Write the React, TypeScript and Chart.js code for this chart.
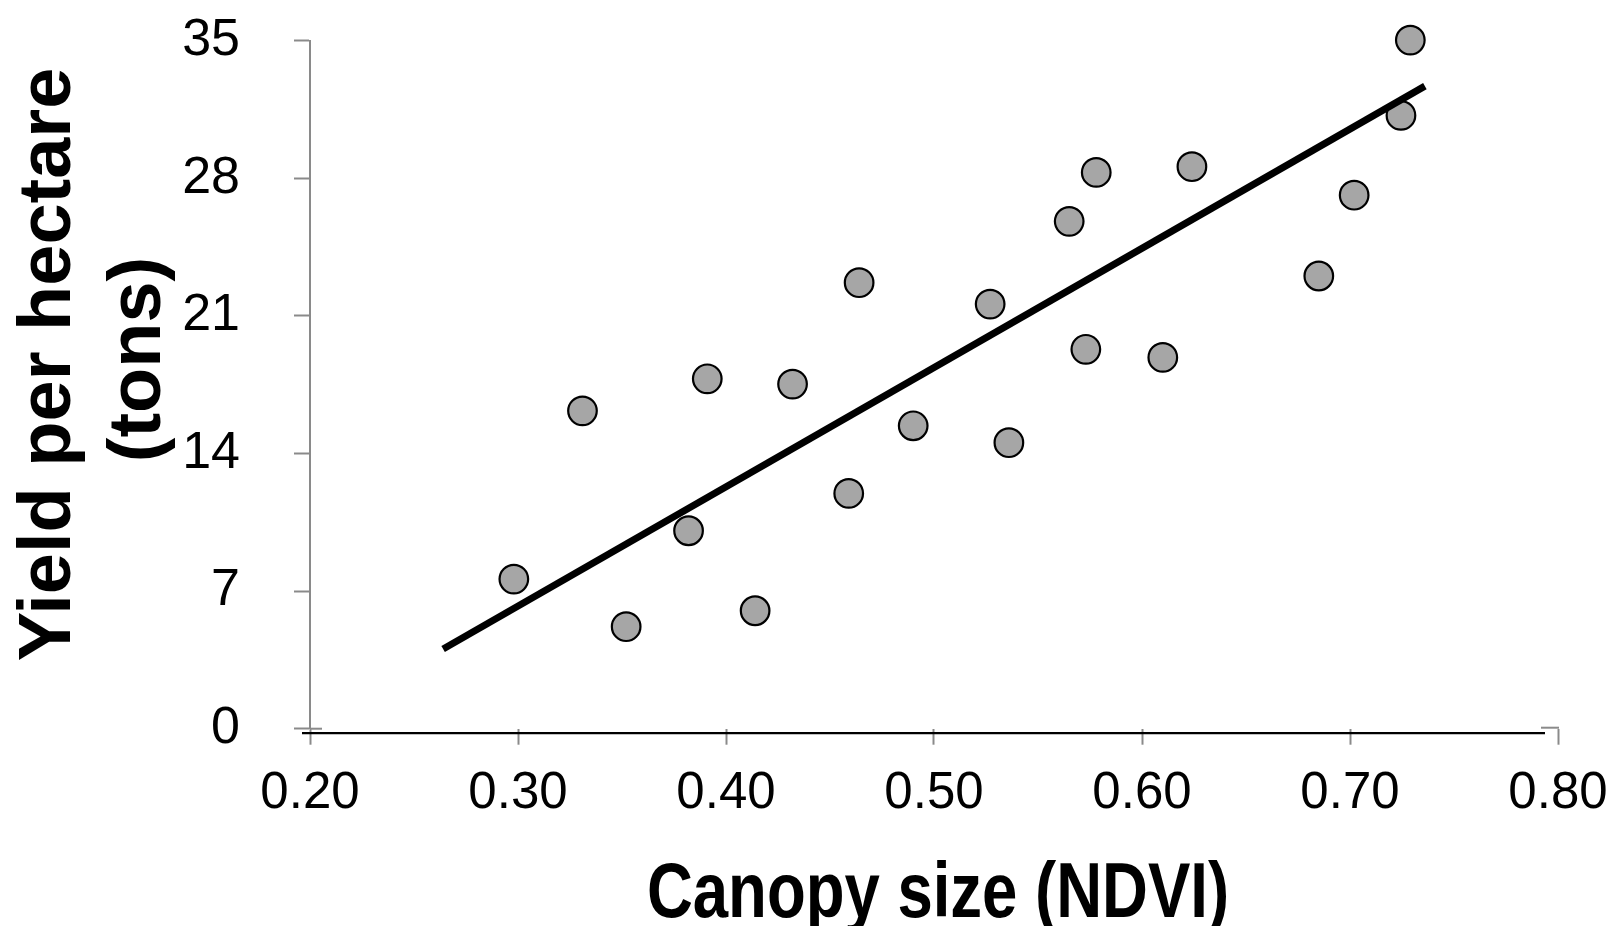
import React, { useEffect, useRef } from "react";
import { Chart, registerables } from "chart.js";

Chart.register(...registerables);

// Canopy size (NDVI) of each plot
const ndvi = [
  0.298, 0.331, 0.352, 0.382, 0.391, 0.414, 0.432, 0.459, 0.464, 0.49, 0.527,
  0.536, 0.565, 0.573, 0.578, 0.61, 0.624, 0.685, 0.702, 0.7245, 0.729,
];
// Yield per hectare (tons) of each plot
const yieldTons = [
  7.61, 16.17, 5.19, 10.07, 17.8, 6.0, 17.53, 11.97, 22.69, 15.41, 21.6, 14.55,
  25.81, 19.3, 28.3, 18.89, 28.59, 23.03, 27.14, 31.2, 35.03,
];
// Trend line end points
const trendNdvi = [0.264, 0.736];
const trendYield = [4.05, 32.69];

const xTitle = "Canopy size (NDVI)";
const yTitleLines = ["Yield per hectare", "(tons)"];

const FONT = "'Liberation Sans', Arial, Helvetica, sans-serif";
const AXIS_GRAY = "#8a8a8a";

export default function App() {
  const ref = useRef<HTMLCanvasElement>(null);

  useEffect(() => {
    document.body.style.margin = "0";
    const canvas = ref.current!;

    const customPlugin = {
      id: "customAxes",
      afterDraw(chart: any) {
        const { ctx, chartArea, scales } = chart;
        const y0 = scales.y.getPixelForValue(0);
        ctx.save();
        // gray stubs of the original axis frame
        ctx.strokeStyle = AXIS_GRAY;
        ctx.lineWidth = 2;
        ctx.beginPath();
        ctx.moveTo(chartArea.left, y0);
        ctx.lineTo(chartArea.left + 12, y0);
        ctx.stroke();
        ctx.beginPath();
        ctx.moveTo(chartArea.right - 17, y0 - 1);
        ctx.lineTo(chartArea.right + 1, y0 - 1);
        ctx.stroke();
        // black horizontal axis line
        ctx.strokeStyle = "#000";
        ctx.lineWidth = 2.2;
        ctx.beginPath();
        ctx.moveTo(chartArea.left - 8, y0 + 4.5);
        ctx.lineTo(chartArea.right - 13, y0 + 4.5);
        ctx.stroke();
        ctx.restore();

        // y title (rotated, two lines)
        ctx.save();
        ctx.fillStyle = "#000";
        ctx.font = `bold 74px ${FONT}`;
        ctx.textAlign = "center";
        ctx.textBaseline = "alphabetic";
        const lines = [
          { t: yTitleLines[0], x: 70, y: 364.5 },
          { t: yTitleLines[1], x: 160, y: 359.5 },
        ];
        for (const l of lines) {
          ctx.save();
          ctx.translate(l.x, l.y);
          ctx.rotate(-Math.PI / 2);
          ctx.fillText(l.t, 0, 0);
          ctx.restore();
        }
        ctx.restore();

        // x title (slightly condensed bold)
        ctx.save();
        ctx.fillStyle = "#000";
        ctx.font = `bold 78px ${FONT}`;
        ctx.textAlign = "center";
        ctx.textBaseline = "alphabetic";
        ctx.translate(938, 917);
        ctx.scale(0.814, 1);
        ctx.fillText(xTitle, 0, 0);
        ctx.restore();
      },
    };

    const chart = new Chart(canvas, {
      type: "scatter",
      data: {
        datasets: [
          {
            type: "line",
            label: "trend",
            data: trendNdvi.map((x, i) => ({ x, y: trendYield[i] })),
            borderColor: "#000",
            borderWidth: 7,
            pointRadius: 0,
            fill: false,
            order: 0,
            clip: false as any,
          },
          {
            type: "scatter",
            label: "plots",
            data: ndvi.map((x, i) => ({ x, y: yieldTons[i] })),
            backgroundColor: "#a6a6a6",
            borderColor: "#000",
            borderWidth: 2.2,
            pointRadius: 14.3,
            order: 1,
            clip: false as any,
          },
        ],
      },
      options: {
        animation: false,
        responsive: false,
        devicePixelRatio: 1,
        layout: { padding: { left: 0, top: 40.7, right: 64, bottom: 0 } },
        plugins: {
          legend: { display: false },
          tooltip: { enabled: false },
        },
        scales: {
          x: {
            type: "linear",
            min: 0.2,
            max: 0.8,
            afterFit: (s: any) => {
              s.height = 926 - 728.7;
              s.paddingLeft = 0;
              s.paddingRight = 0;
            },
            border: { display: false },
            grid: {
              drawOnChartArea: false,
              drawTicks: true,
              tickLength: 16,
              tickColor: AXIS_GRAY,
              tickWidth: 2,
              color: AXIS_GRAY,
            },
            ticks: {
              stepSize: 0.1,
              color: "#000",
              padding: 19,
              font: { family: FONT, size: 51 },
              callback: (v: any) => Number(v).toFixed(2),
              maxRotation: 0,
            },
          },
          y: {
            type: "linear",
            min: 0,
            max: 35,
            afterFit: (s: any) => {
              s.width = 310;
              s.paddingTop = 0;
              s.paddingBottom = 0;
            },
            border: { display: true, color: AXIS_GRAY, width: 2 },
            grid: {
              drawOnChartArea: false,
              drawTicks: true,
              tickLength: 16,
              tickColor: AXIS_GRAY,
              tickWidth: 2,
              color: AXIS_GRAY,
            },
            ticks: {
              stepSize: 7,
              color: "#000",
              padding: 54,
              font: { family: FONT, size: 52 },
            },
          },
        },
      },
      plugins: [customPlugin],
    });

    return () => chart.destroy();
  }, []);

  return (
    <div style={{ position: "absolute", left: 0, top: 0, width: 1622, height: 926 }}>
      <canvas ref={ref} width={1622} height={926} style={{ display: "block" }} />
    </div>
  );
}
